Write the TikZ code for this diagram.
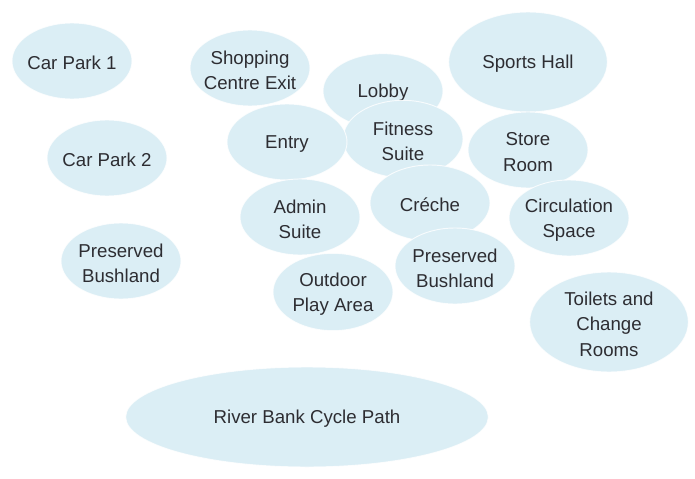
\documentclass[tikz,border=0pt]{standalone}
\usepackage{fontspec}
\setmainfont{Liberation Sans}
\usetikzlibrary{shapes.geometric}
\definecolor{bubble}{RGB}{219,238,245}
\definecolor{txt}{RGB}{45,45,50}
\tikzset{
  area/.style={ellipse, fill=bubble, draw=white, draw opacity=0.8, line width=0.7pt, inner sep=0pt,
    minimum width=90pt, minimum height=57pt,
    label={[lbl]center:#1}},
  lbl/.style={align=center, text=txt, yshift=-1.5pt, inner sep=0pt,
    font=\fontsize{14}{19}\selectfont},
  big/.style={minimum width=119pt, minimum height=75pt}
}
\begin{document}
\begin{tikzpicture}[x=0.75pt,y=-0.75pt]
\useasboundingbox (0,0) rectangle (695,478);
\node[area={Car Park 1}] (cp1) at (72,61) {};
\node[area={Car Park 2}] (cp2) at (107,158) {};
\node[area={Preserved\\Bushland}] (pbl) at (121,261) {};
\node[area={Shopping\\Centre Exit}] (sce) at (250,68) {};
\node[area={Lobby}, minimum height=56pt] (lob) at (383,91) {};
\node[area={Fitness\\Suite}, minimum height=58pt] (fit) at (403,139) {};
\node[area={Entry}] (ent) at (287,142) {};
\node[area={Sports Hall}, big] (sph) at (528,62) {};
\node[area={Store\\Room}] (str) at (528,150) {};
\node[area={Créche}] (cre) at (430,203) {};
\node[area={Admin\\Suite}] (adm) at (300,217) {};
\node[area={Circulation\\Space}] (cir) at (569,218) {};
\node[area={Preserved\\Bushland}] (pbr) at (455,266) {};
\node[area={Outdoor\\Play Area}, minimum height=58pt] (opa) at (333,292) {};
\node[area={Toilets and\\Change\\Rooms}, big] (toi) at (609,322) {};
\node[area={River Bank Cycle Path}, minimum width=272pt, minimum height=75pt] (rbc) at (307,417) {};
\end{tikzpicture}
\end{document}
